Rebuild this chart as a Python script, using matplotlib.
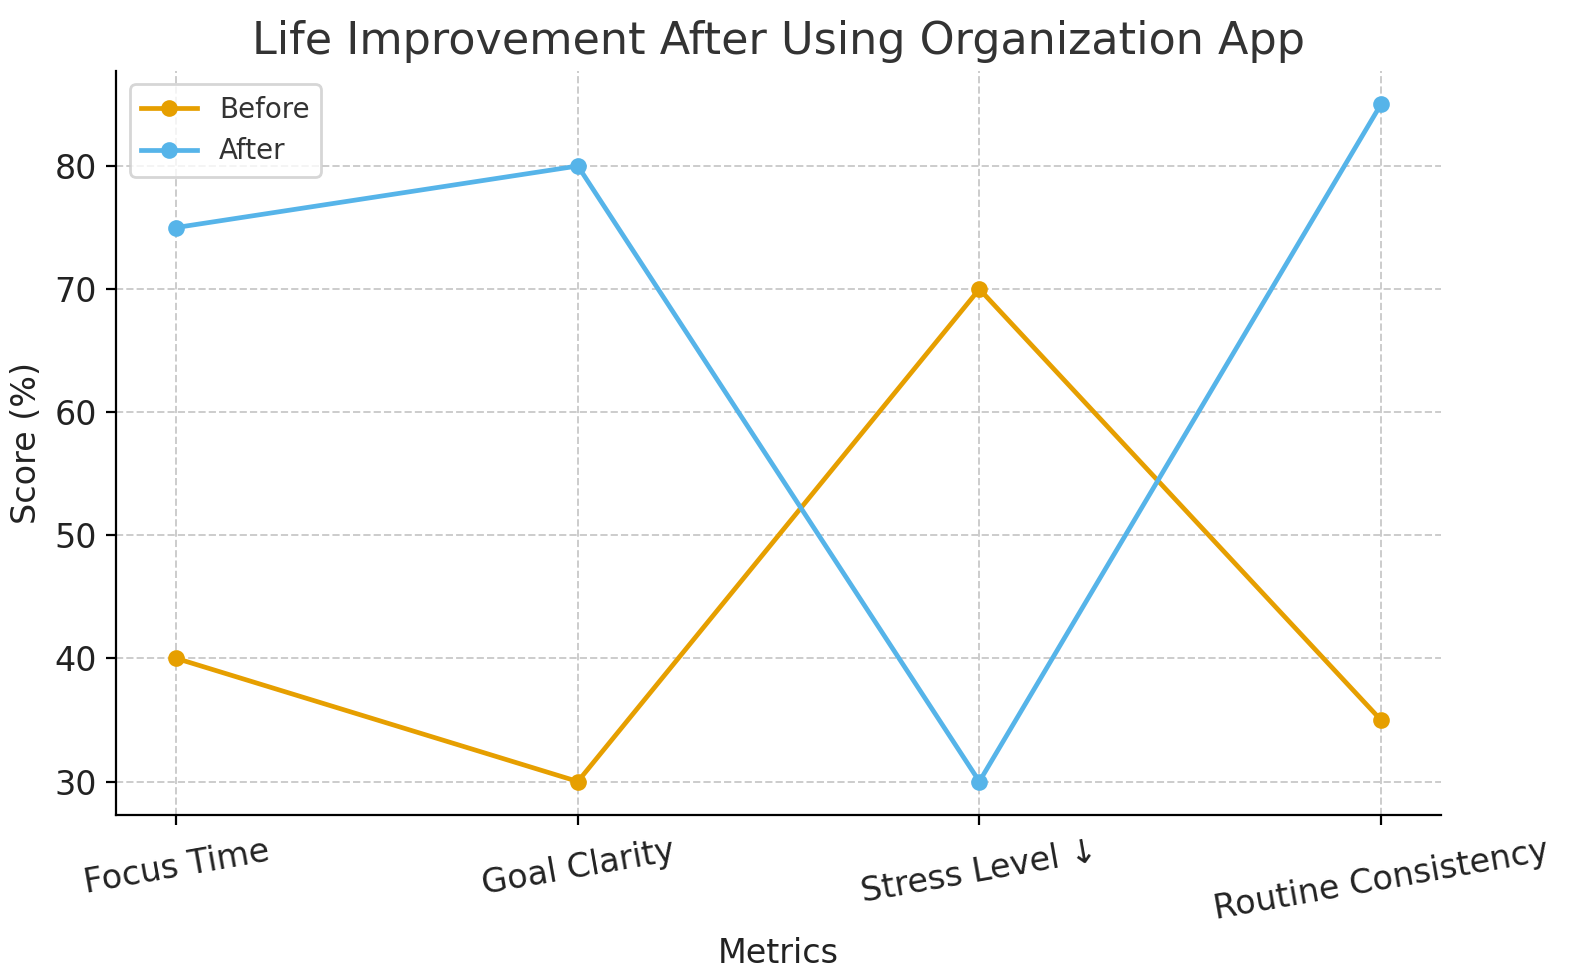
import matplotlib.pyplot as plt

# data
metrics = ['Focus Time', 'Goal Clarity', 'Stress Level ↓', 'Routine Consistency']
before = [40, 30, 70, 35]
after = [75, 80, 30, 85]

fig, ax = plt.subplots(figsize=(7.875, 4.9), dpi=200)
fig.subplots_adjust(left=0.0737, right=0.915, top=0.928, bottom=0.168)

x = list(range(len(metrics)))
ax.plot(x, before, marker='o', color='#E69F00', linewidth=1.7, markersize=5, label='Before')
ax.plot(x, after, marker='o', color='#56B4E9', linewidth=1.7, markersize=5, label='After')

ax.set_xticks(x)
ax.set_xticklabels(metrics, rotation=10, fontsize=12, color='#222222')
ax.tick_params(axis='y', labelsize=12, labelcolor='#222222')
ax.set_xlabel('Metrics', fontsize=12, color='#222222')
ax.set_ylabel('Score (%)', fontsize=12, color='#222222')
ax.set_title('Life Improvement After Using Organization App', fontsize=16, color='#333333')

ax.grid(True, linestyle='--', color='#cccccc', linewidth=0.7)
ax.spines['top'].set_visible(False)
ax.spines['right'].set_visible(False)
ax.legend(loc='upper left', fontsize=10, labelcolor='#333333')

fig.savefig('out.png', dpi=200)
